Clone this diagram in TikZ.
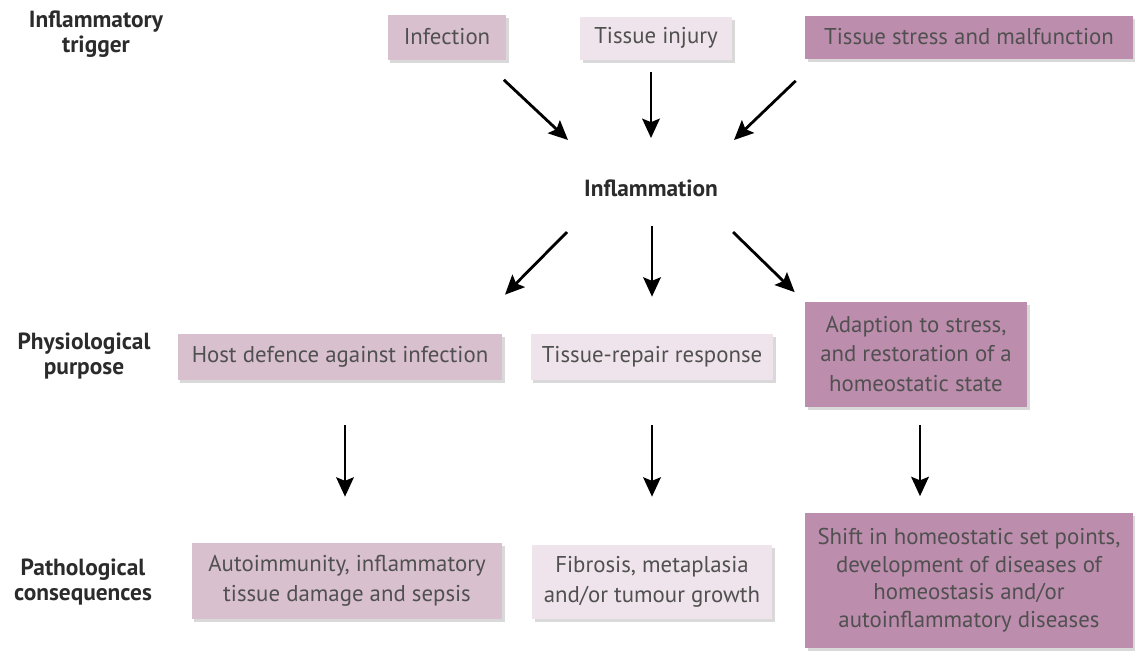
\documentclass[tikz,border=0pt]{standalone}
\usepackage{fontspec}
\setmainfont{PT Sans}
\usetikzlibrary{arrows.meta,positioning,shadows}

\definecolor{mauvelt}{HTML}{D9C0CE}
\definecolor{mauvepl}{HTML}{EFE4EB}
\definecolor{mauvedk}{HTML}{BD8DAD}
\definecolor{boxtext}{HTML}{505050}
\definecolor{lbltext}{HTML}{2B2B2B}

\begin{document}
\begin{tikzpicture}[x=0.02cm,y=-0.02cm,
                    box/.style={fill=#1,text=boxtext,align=center,inner sep=0pt,
                                font=\fontsize{13}{17}\selectfont,
                                drop shadow={opacity=.3,shadow xshift=1.5pt,shadow yshift=-1.8pt}},
                    lbl/.style={text=lbltext,align=center,
                                font=\fontsize{13.3}{14}\selectfont\bfseries},
                    arr/.style={-{Stealth[length=11pt,width=10pt,inset=2pt]},line width=1.6pt}]
    \useasboundingbox (0,0) rectangle (1135,650);

    % row labels
    \node[lbl] (ltrig) at (96,34)  {Inflammatory\\trigger};
    \node[lbl] (lphys) at (84,356) {Physiological\\purpose};
    \node[lbl] (lpath) at (83,582) {Pathological\\consequences};

    % triggers
    \node[box=mauvelt,minimum width=2.38cm,minimum height=.9cm]  (inf)  at (447,37) {Infection};
    \node[box=mauvepl,minimum width=3.04cm,minimum height=.86cm] (inj)  at (656,38) {Tissue injury};
    \node[box=mauvedk,minimum width=6.56cm,minimum height=.86cm] (strs) at (969,37) {Tissue stress and malfunction};

    \node[lbl] (infl) at (651,188) {Inflammation};

    % purposes
    \node[box=mauvelt,minimum width=6.5cm,minimum height=.92cm]  (host) at (340,357) {Host defence against infection};
    \node[box=mauvepl,minimum width=4.86cm,minimum height=.92cm] (rep)  at (652,357) {Tissue-repair response};
    \node[box=mauvedk,minimum width=4.44cm,minimum height=2.1cm] (adap) at (916,354) {Adaption to stress,\\and restoration of a\\homeostatic state};

    % consequences
    \node[box=mauvelt,minimum width=6.22cm,minimum height=1.52cm] (auto)  at (347,581) {Autoimmunity, inflammatory\\tissue damage and sepsis};
    \node[box=mauvepl,minimum width=4.8cm,minimum height=1.48cm]  (fib)   at (652,582) {Fibrosis, metaplasia\\and/or tumour growth};
    \node[box=mauvedk,minimum width=6.56cm,minimum height=2.7cm,
          font=\fontsize{13}{15.7}\selectfont]                    (shift) at (969,580) {Shift in homeostatic set points,\\development of diseases of\\homeostasis and/or\\autoinflammatory diseases};

    % arrow ends
    \path (inf.south east) ++(-3,20)  coordinate (t1);
    \path (inj.south -| infl) ++(0,12) coordinate (t2);
    \path (strs.south west) ++(-9,22) coordinate (t3);
    \path (infl) ++(-83,-48) coordinate (h1);
    \path (infl) ++(0,-50)   coordinate (h2);
    \path (infl) ++(83,-48)  coordinate (h3);
    \path (infl) ++(-84,44)  coordinate (f1);
    \path (infl) ++(1,38)    coordinate (f2);
    \path (infl) ++(82,44)   coordinate (f3);
    \path (host.north) ++(165,-39) coordinate (p1);
    \path (infl |- rep.north) ++(1,-37) coordinate (p2);
    \path (adap.north west) ++(-10,-9) coordinate (p3);
    \path (host.south -| auto) ++(-2,45) coordinate (d1);
    \path (rep.south -| infl) ++(1,45)   coordinate (d2);
    \path (adap.south) ++(4,18)          coordinate (d3);
    \path (auto.north -| d1) ++(0,-46)   coordinate (e1);
    \path (fib.north -| d2) ++(0,-48)    coordinate (e2);
    \path (shift.north -| d3) ++(0,-16)  coordinate (e3);

    \path[arr]
        (t1) edge (h1)
        (t2) edge (h2)
        (t3) edge (h3)
        (f1) edge (p1)
        (f2) edge (p2)
        (f3) edge (p3)
        (d1) edge (e1)
        (d2) edge (e2)
        (d3) edge (e3)
        ;
\end{tikzpicture}
\end{document}
